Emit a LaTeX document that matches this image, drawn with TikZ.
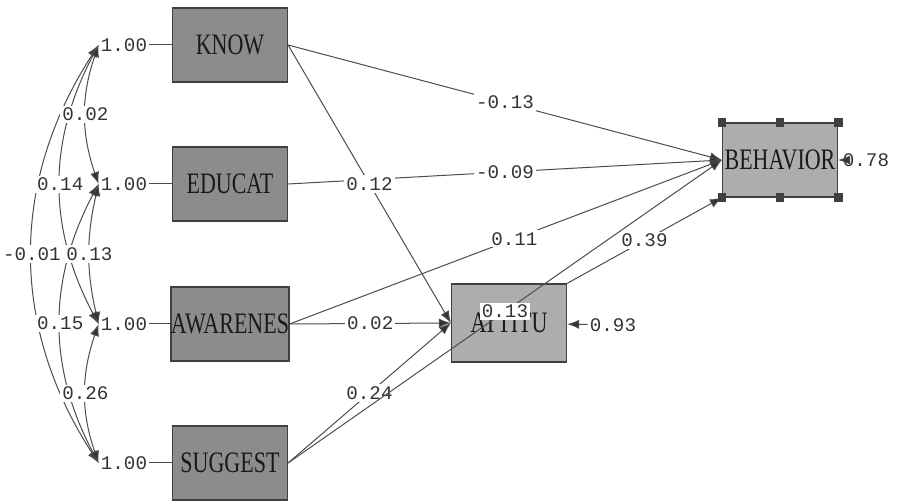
\documentclass[tikz,border=0pt]{standalone}
\usepackage{fontspec}
\setmainfont{Liberation Serif}
\setmonofont{Liberation Mono}
\usepackage{graphicx}
\usetikzlibrary{arrows.meta}

\begin{document}
\begin{tikzpicture}[x=0.5pt, y=0.5pt, font=\ttfamily\fontsize{9.6}{11}\selectfont,
      line/.style={draw=black!70, line width=0.5pt},
      tip/.tip={Latex[length=6pt, width=4.6pt, fill=black!80]},
      arr/.style={line, -tip},
      cov/.style={line, tip-tip},
      box/.style={draw=black!75, line width=0.6pt, minimum width=57.5pt, minimum height=37pt,
                  inner sep=0pt, text=black!90, font=\rmfamily\fontsize{11}{12}\selectfont},
      exbox/.style={box, fill=black!45},
      enbox/.style={box, fill=black!32},
      coef/.style={fill=white, inner sep=1pt, text=black!80},
      handle/.style={fill=black!75}]

    \useasboundingbox (0,0) rectangle (923,-502);

    \node[exbox] (know)   at (230,-45)  {\scalebox{1}[1.35]{KNOW}};
    \node[exbox] (educat) at (230,-184) {\scalebox{1}[1.35]{EDUCAT}};
    \node[exbox] (awar)   at (230,-324) {\scalebox{1}[1.35]{AWARENES}};
    \node[exbox] (sugg)   at (230,-463) {\scalebox{1}[1.35]{SUGGEST}};
    \node[enbox, minimum height=39pt] (attitu) at (509,-323) {\scalebox{1}[1.35]{ATTITU}};
    \node[enbox] (behav)  at (780,-160) {\scalebox{1}[1.35]{BEHAVIOR}};

    \node[coef] (vknow) at (124,-45)  {1.00};
    \node[coef] (vedu)  at (124,-184) {1.00};
    \node[coef] (vawar) at (124,-324) {1.00};
    \node[coef] (vsugg) at (124,-463) {1.00};
    \foreach \v/\b in {vknow/know, vedu/educat, vawar/awar, vsugg/sugg} { \draw[line] (\v) -- (\b); }

    \draw[cov] (vknow.west) to[bend right=33] node[coef] {-0.01} (vsugg.west);
    \draw[cov] (vknow.west) to[bend right=28] node[coef] {0.14} (vawar.west);
    \draw[cov] (vedu.west)  to[bend right=28] node[coef] {0.15} (vsugg.west);
    \draw[cov] (vknow.west) to[bend right=19] node[coef] {0.02} (vedu.west);
    \draw[cov] (vedu.west)  to[bend right=13] node[coef] {0.13} (vawar.west);
    \draw[cov] (vawar.west) to[bend right=19] node[coef] {0.26} (vsugg.west);

    \draw[arr] (know.east)   -- node[coef] {-0.13} (behav.west);
    \draw[arr] (educat.east) -- node[coef] {-0.09} (behav.west);
    \draw[arr] (know.east)   -- node[coef] {0.12} (attitu.west);
    \draw[arr] (awar.east)   -- node[coef, pos=0.52] {0.11} (behav.west);
    \draw[arr] (awar.east)   -- node[coef] {0.02} (attitu.west);
    \draw[arr] (sugg.east)   -- node[coef] {0.24} (attitu.west);
    \draw[arr] (attitu.north east) -- node[coef] {0.39} (behav.south west);
    \draw[arr] (sugg.east)   -- node[coef] {0.13} (behav.west);

    \node[coef] (eatt) at (613,-325) {0.93};
    \draw[arr] (eatt) -- (attitu);
    \node[coef] (ebeh) at (866,-160) {0.78};
    \draw[arr] (ebeh) -- (behav);

    \foreach \a in {north west, north, north east, south west, south, south east}
      { \fill[handle] (behav.\a) ++(-2.2pt,-2.2pt) rectangle ++(4.4pt,4.4pt); }
  \end{tikzpicture}
\end{document}
